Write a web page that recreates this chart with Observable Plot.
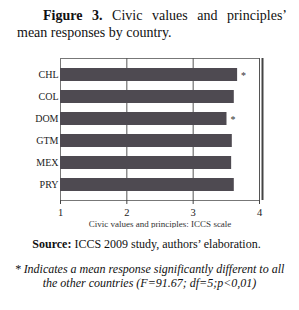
<!DOCTYPE html>
<html>
<head>
<meta charset="utf-8">
<script src="https://cdn.jsdelivr.net/npm/d3@7"></script>
<script src="https://cdn.jsdelivr.net/npm/@observablehq/plot@0.6"></script>
<style>
  html, body { margin: 0; padding: 0; background: #fff; }
  body { width: 299px; height: 310px; position: relative; overflow: hidden; font-family: "Liberation Serif", "Times New Roman", serif; color: #111; }
  .t { position: absolute; font-size: 14px; line-height: 16.5px; white-space: nowrap; }
  #t1 { left: 43px; top: 8px; width: 244px; text-align: justify; text-align-last: justify; }
  #t2 { left: 17px; top: 24.5px; }
  #chart { position: absolute; left: 0; top: 45px; }
  #source { position: absolute; left: 0; top: 237px; width: 293px; text-align: center; font-size: 12px; line-height: 14px; }
  #note { position: absolute; left: 0; top: 262px; width: 299px; text-align: center; font-size: 12px; line-height: 14px; font-style: italic; }
</style>
</head>
<body>
<div class="t" id="t1" style="white-space: normal;"><b>Figure 3.</b> Civic values and principles’</div>
<div class="t" id="t2">mean responses by country.</div>
<div id="chart"></div>
<div id="source"><b>Source:</b> ICCS 2009 study, authors’ elaboration.</div>
<div id="note">* Indicates a mean response significantly different to all<br>the other countries (F=91.67; df=5;p&lt;0,01)</div>
<script>
const countries = ["CHL", "COL", "DOM", "GTM", "MEX", "PRY"];
const means = [3.67, 3.62, 3.51, 3.59, 3.58, 3.62];
const significant = [true, false, true, false, false, false];
const xTicks = [1, 2, 3, 4];
const xLabel = "Civic values and principles: ICCS scale";

const data = countries.map((c, i) => ({country: c, mean: means[i], sig: significant[i]}));

const plot = Plot.plot({
  width: 299,
  height: 183,
  marginTop: 13,
  marginBottom: 28,
  marginLeft: 60,
  marginRight: 40,
  style: {fontFamily: "'Liberation Serif', 'Times New Roman', serif", background: "transparent", color: "#222"},
  x: {domain: [1, 4], ticks: xTicks, label: null},
  y: {domain: countries, paddingInner: 0.43, paddingOuter: 0.42, label: null},
  marks: [
    Plot.frame({stroke: "#777"}),
    Plot.ruleX(xTicks.slice(1), {stroke: "#555", strokeWidth: 1}),
    Plot.ruleX([4], {dx: 3, stroke: "#444", strokeWidth: 2}),
    Plot.barX(data, {x1: 1, x2: "mean", y: "country", fill: "#4e4a51"}),
    Plot.text(data.filter(d => d.sig), {x: "mean", y: "country", text: () => "*", dx: 6, dy: 1, fontSize: 10, fill: "#333"}),
    Plot.axisX({ticks: xTicks, tickFormat: "d", tickSize: 4, tickPadding: 4, fontSize: 10.5, stroke: "#444", fill: "#222"}),
    Plot.axisY({tickSize: 0, tickPadding: 2, fontSize: 10, fill: "#222"}),
    Plot.text([xLabel], {frameAnchor: "bottom", dy: 26, fontSize: 9, fill: "#333"})
  ]
});
document.getElementById("chart").appendChild(plot);
</script>
</body>
</html>
